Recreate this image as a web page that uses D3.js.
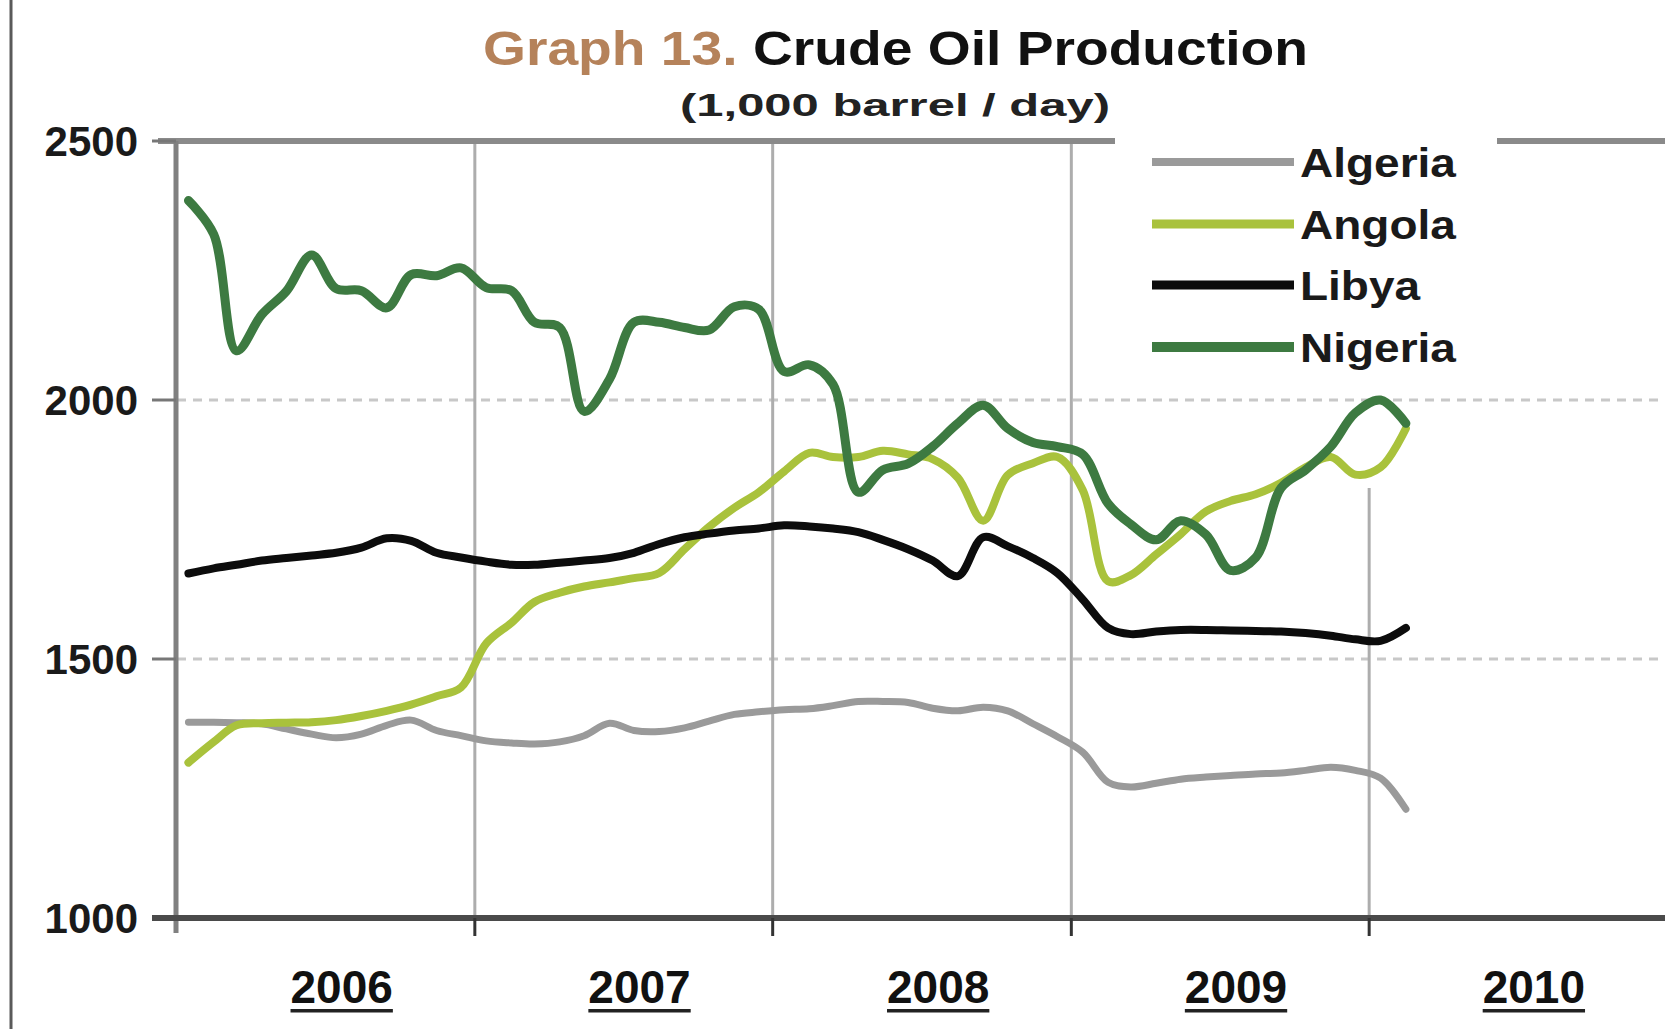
<!DOCTYPE html>
<html><head><meta charset="utf-8">
<script src="https://cdn.jsdelivr.net/npm/d3@7"></script>
<style>html,body{margin:0;padding:0;background:#fff;} svg{display:block;}</style>
</head><body>
<svg id="chart" width="1665" height="1029"></svg>
<script>
const months = ["2006-01","2006-02","2006-03","2006-04","2006-05","2006-06","2006-07","2006-08","2006-09","2006-10","2006-11","2006-12",
"2007-01","2007-02","2007-03","2007-04","2007-05","2007-06","2007-07","2007-08","2007-09","2007-10","2007-11","2007-12",
"2008-01","2008-02","2008-03","2008-04","2008-05","2008-06","2008-07","2008-08","2008-09","2008-10","2008-11","2008-12",
"2009-01","2009-02","2009-03","2009-04","2009-05","2009-06","2009-07","2009-08","2009-09","2009-10","2009-11","2009-12",
"2010-01","2010-02"];
const algeria = [1378,1378,1377,1375,1365,1355,1348,1355,1372,1382,1362,1352,1342,1338,1336,1340,1352,1376,1362,1360,1367,1380,1393,1398,1402,1404,1410,1418,1418,1416,1405,1400,1407,1400,1375,1350,1320,1262,1253,1260,1268,1272,1275,1278,1280,1285,1291,1285,1270,1210];
const angola = [1300,1340,1372,1376,1377,1378,1382,1390,1400,1412,1428,1445,1530,1570,1610,1628,1640,1648,1656,1666,1712,1755,1792,1822,1862,1898,1890,1890,1902,1895,1886,1850,1767,1855,1878,1890,1826,1650,1662,1702,1741,1785,1805,1818,1840,1870,1890,1856,1870,1945];
const libya = [1665,1675,1682,1690,1695,1700,1705,1715,1733,1728,1705,1696,1688,1682,1682,1686,1690,1695,1705,1722,1735,1742,1748,1752,1758,1756,1752,1745,1730,1712,1690,1660,1735,1718,1695,1666,1615,1560,1548,1553,1556,1556,1555,1554,1553,1550,1545,1538,1535,1560];
const nigeria = [2385,2320,2095,2165,2210,2280,2215,2211,2178,2242,2240,2255,2217,2211,2150,2140,1978,2040,2150,2150,2140,2135,2180,2175,2055,2068,2030,1822,1865,1877,1910,1955,1990,1945,1918,1910,1895,1800,1760,1730,1767,1740,1671,1696,1830,1865,1910,1975,2000,1955];
const seriesNames = ["Algeria","Angola","Libya","Nigeria"];
const seriesColors = ["#9a9a9a","#a9c23c","#0c0c0c","#3d7a41"];
const seriesWidths = [7,8,8,9];
const yearLabels = ["2006","2007","2008","2009","2010"];
const yearBounds = ["2006","2007","2008","2009","2010","2011"];
const yTicks = [1000,1500,2000,2500];
const titleA = "Graph 13.";
const titleB = " Crude Oil Production";
const subtitle = "(1,000 barrel / day)";

const seriesData = [algeria, angola, libya, nigeria];
const svg = d3.select("#chart");
const FONT = "'Liberation Sans', Arial, sans-serif";
const parseM = d3.timeParse("%Y-%m-%d");
const parseY = d3.timeParse("%Y");
const x = d3.scaleTime().domain([parseY("2006"), parseY("2011")]).range([177, 1667]);
const y = d3.scaleLinear().domain([1000, 2500]).range([918, 141]);
const dates = months.map(m => parseM(m + "-15"));

function fitText(sel, left, baseline, targetW) {
  const w = sel.node().getBBox().width;
  const s = targetW / w;
  sel.attr("transform", `translate(${left},${baseline}) scale(${s},1)`);
}

// left border
svg.append("line").attr("x1", 11).attr("x2", 11).attr("y1", 0).attr("y2", 1029)
  .attr("stroke", "#5a5a5a").attr("stroke-width", 3);

// horizontal dashed gridlines
svg.append("g").selectAll("line").data([1500, 2000]).join("line")
  .attr("x1", 177).attr("x2", 1665).attr("y1", d => y(d)).attr("y2", d => y(d))
  .attr("stroke", "#c8c8c8").attr("stroke-width", 3).attr("stroke-dasharray", "9,7");

// vertical gridlines
const vb = yearBounds.slice(1);
svg.append("g").selectAll("line").data(vb).join("line")
  .attr("x1", d => x(parseY(d))).attr("x2", d => x(parseY(d)))
  .attr("y1", d => d === "2010" ? y(1830) : y(2500)).attr("y2", y(1000))
  .attr("stroke", d => d === "2011" ? "#dddddd" : "#adadad").attr("stroke-width", 3);

// top frame line (interrupted by legend)
svg.append("line").attr("x1", 158).attr("x2", 1115).attr("y1", y(2500)).attr("y2", y(2500))
  .attr("stroke", "#8a8a8a").attr("stroke-width", 6);
svg.append("line").attr("x1", 1497).attr("x2", 1665).attr("y1", y(2500)).attr("y2", y(2500))
  .attr("stroke", "#8a8a8a").attr("stroke-width", 6);

// y axis line
svg.append("line").attr("x1", 176).attr("x2", 176).attr("y1", y(2500)).attr("y2", y(1000) + 15)
  .attr("stroke", "#808080").attr("stroke-width", 5);
// y ticks
svg.append("g").selectAll("line").data(yTicks).join("line")
  .attr("x1", 152).attr("x2", 176).attr("y1", d => y(d)).attr("y2", d => y(d))
  .attr("stroke", "#777").attr("stroke-width", 3);
// y labels
svg.append("g").selectAll("text").data(yTicks).join("text")
  .attr("x", 138).attr("y", d => y(d) + 15).attr("text-anchor", "end")
  .attr("font-family", FONT).attr("font-weight", "bold").attr("font-size", 42)
  .attr("fill", "#1a1a1a").text(d => d);

// x axis line
svg.append("line").attr("x1", 152).attr("x2", 1665).attr("y1", y(1000)).attr("y2", y(1000))
  .attr("stroke", "#4a4a4a").attr("stroke-width", 6);
svg.append("g").selectAll("line").data(yearBounds.slice(1, 5)).join("line")
  .attr("x1", d => x(parseY(d))).attr("x2", d => x(parseY(d)))
  .attr("y1", y(1000)).attr("y2", y(1000) + 18)
  .attr("stroke", "#333").attr("stroke-width", 3);

// year labels
const yl = svg.append("g").selectAll("g").data(yearLabels).join("g")
  .attr("transform", d => `translate(${x(parseM(d + "-07-01")) + 17},0)`);
yl.append("text").attr("x", 0).attr("y", 1003).attr("text-anchor", "middle")
  .attr("font-family", FONT).attr("font-weight", "bold").attr("font-size", 46)
  .attr("fill", "#111").text(d => d);
yl.each(function() {
  const g = d3.select(this);
  const bb = g.select("text").node().getBBox();
  g.append("rect").attr("x", bb.x).attr("y", 1009).attr("width", bb.width).attr("height", 3.5).attr("fill", "#222");
});

// series lines
const line = d3.line().x((d, i) => x(dates[i])).y(d => y(d)).curve(d3.curveCatmullRom.alpha(0.5));
svg.append("g").selectAll("path").data(seriesData).join("path")
  .attr("d", d => line(d)).attr("fill", "none")
  .attr("stroke", (d, i) => seriesColors[i]).attr("stroke-width", (d, i) => seriesWidths[i])
  .attr("stroke-linejoin", "round").attr("stroke-linecap", "round");

// legend
const legY = [162, 224, 285, 347];
const leg = svg.append("g").selectAll("g").data(seriesNames).join("g");
leg.append("line").attr("x1", 1152).attr("x2", 1294)
  .attr("y1", (d, i) => legY[i]).attr("y2", (d, i) => legY[i])
  .attr("stroke", (d, i) => seriesColors[i]).attr("stroke-width", (d, i) => seriesWidths[i] + 1);
leg.append("text").attr("font-family", FONT).attr("font-weight", "bold").attr("font-size", 40)
  .attr("fill", "#1a1a1a").text(d => d)
  .attr("transform", (d, i) => `translate(1300,${legY[i] + 15}) scale(1.15,1)`);

// title
const t = svg.append("text").attr("font-family", FONT).attr("font-weight", "bold").attr("font-size", 48);
t.append("tspan").attr("fill", "#b5825a").text(titleA);
t.append("tspan").attr("fill", "#111").text(titleB);
fitText(t, 483, 65, 825);

const st = svg.append("text").attr("font-family", FONT).attr("font-weight", "bold").attr("font-size", 32)
  .attr("fill", "#222").text(subtitle);
fitText(st, 680, 116, 430);
</script>
</body></html>
